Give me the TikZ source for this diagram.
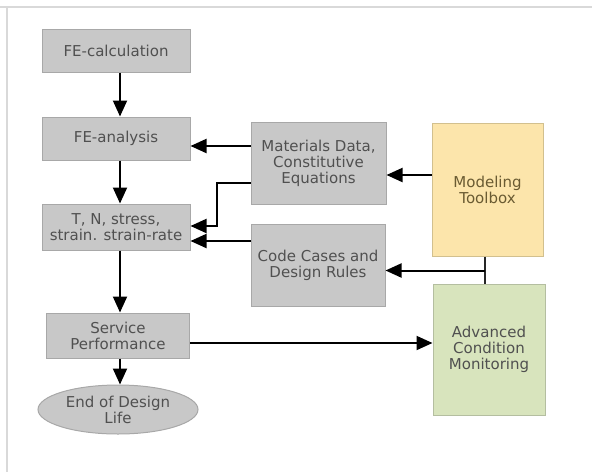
\documentclass[tikz,border=0pt]{standalone}
\usepackage{fontspec}
\setmainfont{DejaVu Sans}
\usepackage{tikz}
\usetikzlibrary{arrows.meta}
\usetikzlibrary{shapes.geometric}

\definecolor{boxgray}{HTML}{C8C8C8}
\definecolor{edgegray}{HTML}{A8A8A8}
\definecolor{txtgray}{HTML}{505050}
\definecolor{toolyellow}{HTML}{FCE5AB}
\definecolor{tooledge}{HTML}{D2C08E}
\definecolor{tooltxt}{HTML}{6A5B32}
\definecolor{monigreen}{HTML}{D8E4BD}
\definecolor{moniedge}{HTML}{B4BEA0}
\definecolor{framegray}{HTML}{D9D9D9}

\begin{document}
\begin{tikzpicture}[x = 1pt, y = -1pt,
    every node/.style = {font=\fontsize{15}{16}\selectfont, align=center, inner sep=0pt},
    stepbox/.style = {draw=edgegray, fill=boxgray, text=txtgray, line width=1pt},
    flow/.style = {line width=2pt, -{Triangle[length=16pt, width=14pt]}},
    link/.style = {line width=2pt, draw=black!85}]
          \useasboundingbox (0,0) rectangle (592,472);
          \draw[framegray, line width=2pt] (0,7) -- (592,7);
          \draw[framegray, line width=2pt] (7,7) -- (7,472);
          % left column
          \node[stepbox, minimum width=148, minimum height=43] (calc) at (116,50.5) {FE-calculation};
          \node[stepbox, minimum width=148, minimum height=43] (analysis) at (116,138.5) {FE-analysis};
          \node[stepbox, minimum width=148, minimum height=46] (state) at (116,227) {T, N, stress,\\strain. strain-rate};
          \node[stepbox, minimum width=143, minimum height=45] (service) at (118,335.5) {Service\\Performance};
          \node[stepbox, ellipse, minimum width=160, minimum height=49] (endlife) at (118,409.5) {End of Design\\Life};
          % middle column
          \node[stepbox, minimum width=135, minimum height=82] (material) at (318.5,163) {Materials Data,\\Constitutive\\Equations};
          \node[stepbox, minimum width=134, minimum height=82] (code) at (318,265) {Code Cases and\\Design Rules};
          % right column
          \node[draw=tooledge, fill=toolyellow, text=tooltxt, line width=1pt,
                minimum width=111, minimum height=133] (toolbox) at (487.5,189.5) {Modeling\\Toolbox};
          \node[draw=moniedge, fill=monigreen, text=txtgray, line width=1pt,
                minimum width=112, minimum height=131] (monitor) at (489,349.5) {Advanced\\Condition\\Monitoring};
          % arrows
          \draw[flow] ([xshift=4]calc.south) -- ([xshift=4]analysis.north);
          \draw[flow] ([xshift=4]analysis.south) -- ([xshift=4]state.north);
          \draw[flow] ([xshift=4]state.south) -- ([xshift=4]state.south |- service.north);
          \draw[flow] ([xshift=2]service.south) -- ([xshift=2]endlife.north);
          \draw[flow] ([yshift=17]material.west) -- ([yshift=17]material.west -| analysis.east);
          \draw[flow] ([yshift=-20]material.west) -- ++(-34,0) |- ([yshift=1]state.east);
          \draw[flow] ([yshift=24]code.west) -- ([yshift=24]code.west -| state.east);
          \draw[flow] ([yshift=14.5]toolbox.west) -- ([yshift=14.5]toolbox.west -| material.east);
          \draw[link] ([xshift=-2.5]toolbox.south) -- ([xshift=-2.5]toolbox.south |- monitor.north);
          \coordinate (split) at ([xshift=-2.5,yshift=-14]toolbox.south);
          \draw[flow] (split) -- (split -| code.east);
          \draw[flow] ([yshift=-7.5]service.east) -- ([yshift=-7.5]service.east -| monitor.west);
        \end{tikzpicture}
\end{document}
